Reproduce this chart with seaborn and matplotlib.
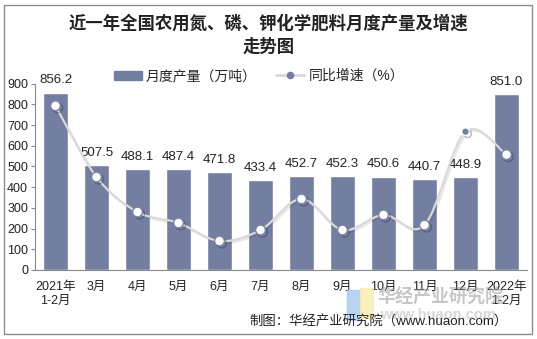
import numpy as np
import pandas as pd
import seaborn as sns
import matplotlib.pyplot as plt
from matplotlib.path import Path
from matplotlib.patches import PathPatch, Rectangle
from matplotlib.lines import Line2D
import matplotlib.patheffects as pe

sns.set_theme(style="white")
plt.rcParams['font.family'] = ['Liberation Sans', 'Noto Sans CJK SC', 'DejaVu Sans']

# Monthly output of nitrogen, phosphate and potash fertilizer (10k tonnes)
months = ["2021年\n1-2月", "3月", "4月", "5月", "6月", "7月", "8月",
          "9月", "10月", "11月", "12月", "2022年\n1-2月"]
output = [856.2, 507.5, 488.1, 487.4, 471.8, 433.4, 452.7, 452.3,
          450.6, 440.7, 448.9, 851.0]
# Year-on-year growth (%)
growth = [39.3, 4.9, -12.0, -17.3, -26.0, -20.7, -5.7, -20.7,
          -13.4, -18.3, 26.8, 15.7]

bar_color = "#737EA1"
line_color = "#D9D9D9"

W, H = 537, 339
fig = plt.figure(figsize=(W / 100, H / 100), dpi=100)
ax = fig.add_axes([35 / W, (H - 270) / H, (527 - 35) / W, (270 - 83.6) / H])

df = pd.DataFrame({"month": months, "output": output})
sns.barplot(data=df, x="month", y="output", color=bar_color, width=0.6,
            saturation=1, ax=ax, zorder=2)

ax.set_ylim(0, 900)
ax.set_xlim(-0.5, len(months) - 0.5)
ax.set_yticks(range(0, 901, 100))
ax.set_xlabel("")
ax.set_ylabel("")
ax.tick_params(axis="y", labelsize=9, length=3, width=0.8, color="#888888",
               pad=2, labelcolor="#222222")
ax.tick_params(axis="x", labelsize=9, length=0, pad=8, labelcolor="#222222")
ax.set_xticks(range(len(months)))
ax.set_xticklabels(months, linespacing=1.2)
# category boundary ticks
ax.set_xticks(np.arange(-0.5, len(months), 1.0), minor=True)
ax.tick_params(axis="x", which="minor", length=4, width=0.8, color="#888888",
               direction="out")
for s in ["top", "right"]:
    ax.spines[s].set_visible(False)
for s in ["left", "bottom"]:
    ax.spines[s].set_color("#888888")
    ax.spines[s].set_linewidth(0.8)

for i, v in enumerate(output):
    ax.text(i, v + 30, f"{v:.1f}", ha="center", va="bottom", fontsize=9.5,
            color="#222222")

# growth rate on a hidden secondary axis
ax2 = ax.twinx()
ax2.set_ylim(-40, 50)
ax2.axis("off")

x = np.arange(len(growth), dtype=float)
y = np.array(growth, dtype=float)
# smooth curve through the points (Catmull-Rom as cubic Bezier segments)
verts = [(x[0], y[0])]
codes = [Path.MOVETO]
t = 1 / 6
for k in range(len(x) - 1):
    p0 = (x[k - 1], y[k - 1]) if k > 0 else (x[k], y[k])
    p1 = (x[k], y[k])
    p2 = (x[k + 1], y[k + 1])
    p3 = (x[k + 2], y[k + 2]) if k + 2 < len(x) else (x[k + 1], y[k + 1])
    c1 = (p1[0] + (p2[0] - p0[0]) * t, p1[1] + (p2[1] - p0[1]) * t)
    c2 = (p2[0] - (p3[0] - p1[0]) * t, p2[1] - (p3[1] - p1[1]) * t)
    verts += [c1, c2, p2]
    codes += [Path.CURVE4] * 3
curve = PathPatch(Path(verts, codes), facecolor="none", edgecolor=line_color,
                  lw=1.6, zorder=3,
                  path_effects=[pe.SimpleLineShadow(offset=(1.2, -1.2), alpha=0.1),
                                pe.Normal()])
ax2.add_patch(curve)

face = ["white"] * len(x)
face[10] = bar_color
sizes = [7] * len(x)
sizes[10] = 5.5
for xi, yi, fc, ms in zip(x, y, face, sizes):
    ax2.plot([xi], [yi], marker="o", ms=ms, mfc=fc,
             mec="white" if fc != "white" else "#7A84A6", mew=1.0, zorder=4,
             path_effects=[pe.SimpleLineShadow(offset=(1.5, -1.5), alpha=0.3),
                           pe.Normal()])

# legend
handles = [Rectangle((0, 0), 1, 1, color=bar_color),
           Line2D([0], [0], color=line_color, lw=2, marker="o", ms=4.5,
                  mfc=bar_color, mec=bar_color)]
fig.legend(handles, ["月度产量（万吨）", "同比增速（%）"], loc="center",
           bbox_to_anchor=(259 / W, 1 - 76 / H), ncol=2, frameon=False,
           fontsize=10, handlelength=2.0, handleheight=0.6, columnspacing=1.4,
           handletextpad=0.3)

# title
fig.text(0.5, 1 - 23 / H, "近一年全国农用氮、磷、钾化学肥料月度产量及增速",
         ha="center", va="center", fontsize=12.5, fontweight="bold", color="#222222")
fig.text(0.5, 1 - 46 / H, "走势图", ha="center", va="center", fontsize=12.5,
         fontweight="bold", color="#222222")

# watermark
fig.patches.append(Rectangle((347 / W, 1 - 320 / H), 13 / W, 30 / H,
                             transform=fig.transFigure, color="#A8C8F0",
                             alpha=0.8, zorder=5))
fig.patches.append(Rectangle((360 / W, 1 - 318 / H), 13 / W, 30 / H,
                             transform=fig.transFigure, color="#FBEBB0",
                             alpha=0.8, zorder=5))
fig.text(441 / W, 1 - 298 / H, "华经产业研究院", ha="center", va="center",
         fontsize=13, fontweight="bold", color="#9A9A9A", alpha=0.55, zorder=6)
fig.text(438 / W, 1 - 315 / H, "www.huaon.com", ha="center", va="center",
         fontsize=10.5, fontweight="bold", color="#9A9A9A", alpha=0.4, zorder=6)

# source note
fig.text(508 / W, 1 - 322 / H, "制图：华经产业研究院（www.huaon.com）",
         ha="right", va="center", fontsize=9.6, color="#222222", zorder=7)

# outer frame
fig.patches.append(Rectangle((4 / W, 5 / H), (532 - 4) / W, (334 - 5) / H,
                             transform=fig.transFigure, fill=False,
                             edgecolor="#8C8C8C", lw=1.0))

fig.savefig("out.png", dpi=100)
